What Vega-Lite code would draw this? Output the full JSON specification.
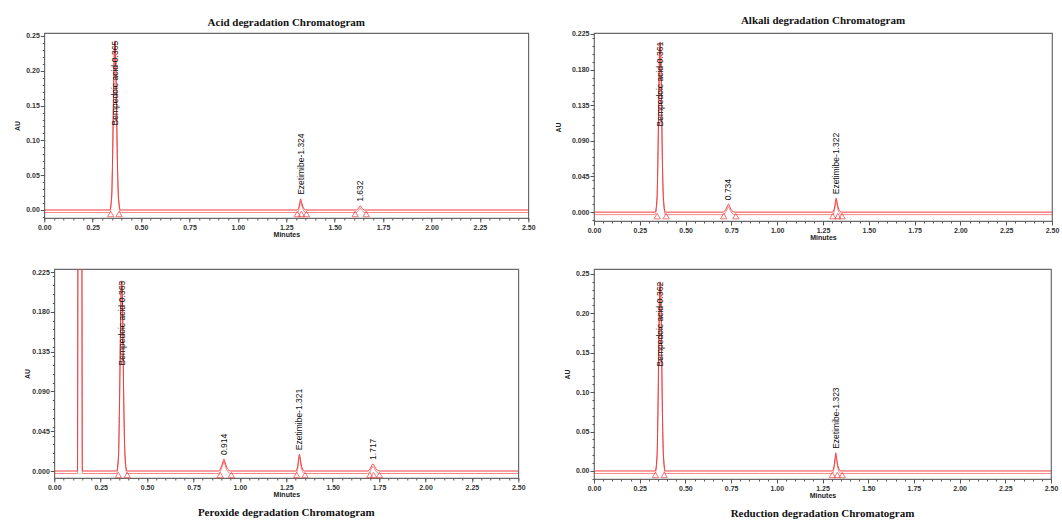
{
  "$schema": "https://vega.github.io/schema/vega-lite/v6.json",
  "background": "white",
  "padding": {"left": 13, "top": 14, "right": 0, "bottom": 0},
  "datasets": {
    "trace": [
      {"panel": "acid", "minutes": 0, "au": 0},
      {"panel": "acid", "minutes": 0.338, "au": 0},
      {"panel": "acid", "minutes": 0.348, "au": 0.02},
      {"panel": "acid", "minutes": 0.353, "au": 0.08},
      {"panel": "acid", "minutes": 0.358, "au": 0.17},
      {"panel": "acid", "minutes": 0.362, "au": 0.23},
      {"panel": "acid", "minutes": 0.365, "au": 0.243},
      {"panel": "acid", "minutes": 0.368, "au": 0.23},
      {"panel": "acid", "minutes": 0.372, "au": 0.17},
      {"panel": "acid", "minutes": 0.377, "au": 0.08},
      {"panel": "acid", "minutes": 0.383, "au": 0.02},
      {"panel": "acid", "minutes": 0.393, "au": 0},
      {"panel": "acid", "minutes": 1.305, "au": 0},
      {"panel": "acid", "minutes": 1.315, "au": 0.004},
      {"panel": "acid", "minutes": 1.32, "au": 0.011},
      {"panel": "acid", "minutes": 1.324, "au": 0.016},
      {"panel": "acid", "minutes": 1.329, "au": 0.011},
      {"panel": "acid", "minutes": 1.337, "au": 0.004},
      {"panel": "acid", "minutes": 1.35, "au": 0},
      {"panel": "acid", "minutes": 1.612, "au": 0},
      {"panel": "acid", "minutes": 1.624, "au": 0.003},
      {"panel": "acid", "minutes": 1.632, "au": 0.006},
      {"panel": "acid", "minutes": 1.64, "au": 0.003},
      {"panel": "acid", "minutes": 1.655, "au": 0},
      {"panel": "acid", "minutes": 2.5, "au": 0},
      {"panel": "alkali", "minutes": 0, "au": 0},
      {"panel": "alkali", "minutes": 0.334, "au": 0},
      {"panel": "alkali", "minutes": 0.344, "au": 0.018},
      {"panel": "alkali", "minutes": 0.349, "au": 0.07},
      {"panel": "alkali", "minutes": 0.354, "au": 0.15},
      {"panel": "alkali", "minutes": 0.358, "au": 0.205},
      {"panel": "alkali", "minutes": 0.361, "au": 0.215},
      {"panel": "alkali", "minutes": 0.364, "au": 0.205},
      {"panel": "alkali", "minutes": 0.368, "au": 0.15},
      {"panel": "alkali", "minutes": 0.373, "au": 0.07},
      {"panel": "alkali", "minutes": 0.379, "au": 0.018},
      {"panel": "alkali", "minutes": 0.389, "au": 0},
      {"panel": "alkali", "minutes": 0.705, "au": 0},
      {"panel": "alkali", "minutes": 0.718, "au": 0.003},
      {"panel": "alkali", "minutes": 0.727, "au": 0.007},
      {"panel": "alkali", "minutes": 0.734, "au": 0.01},
      {"panel": "alkali", "minutes": 0.741, "au": 0.007},
      {"panel": "alkali", "minutes": 0.752, "au": 0.002},
      {"panel": "alkali", "minutes": 0.77, "au": 0},
      {"panel": "alkali", "minutes": 1.302, "au": 0},
      {"panel": "alkali", "minutes": 1.312, "au": 0.005},
      {"panel": "alkali", "minutes": 1.317, "au": 0.012},
      {"panel": "alkali", "minutes": 1.322, "au": 0.0175},
      {"panel": "alkali", "minutes": 1.327, "au": 0.012},
      {"panel": "alkali", "minutes": 1.335, "au": 0.004},
      {"panel": "alkali", "minutes": 1.35, "au": 0},
      {"panel": "alkali", "minutes": 2.5, "au": 0},
      {"panel": "peroxide", "minutes": 0, "au": 0},
      {"panel": "peroxide", "minutes": 0.125, "au": 0},
      {"panel": "peroxide", "minutes": 0.128, "au": 0.3},
      {"panel": "peroxide", "minutes": 0.148, "au": 0.3},
      {"panel": "peroxide", "minutes": 0.151, "au": 0},
      {"panel": "peroxide", "minutes": 0.336, "au": 0},
      {"panel": "peroxide", "minutes": 0.346, "au": 0.018},
      {"panel": "peroxide", "minutes": 0.351, "au": 0.07},
      {"panel": "peroxide", "minutes": 0.356, "au": 0.15},
      {"panel": "peroxide", "minutes": 0.36, "au": 0.205},
      {"panel": "peroxide", "minutes": 0.363, "au": 0.215},
      {"panel": "peroxide", "minutes": 0.366, "au": 0.205},
      {"panel": "peroxide", "minutes": 0.37, "au": 0.15},
      {"panel": "peroxide", "minutes": 0.375, "au": 0.07},
      {"panel": "peroxide", "minutes": 0.381, "au": 0.018},
      {"panel": "peroxide", "minutes": 0.391, "au": 0},
      {"panel": "peroxide", "minutes": 0.885, "au": 0},
      {"panel": "peroxide", "minutes": 0.898, "au": 0.004},
      {"panel": "peroxide", "minutes": 0.907, "au": 0.009},
      {"panel": "peroxide", "minutes": 0.914, "au": 0.0136},
      {"panel": "peroxide", "minutes": 0.921, "au": 0.009},
      {"panel": "peroxide", "minutes": 0.932, "au": 0.003},
      {"panel": "peroxide", "minutes": 0.95, "au": 0},
      {"panel": "peroxide", "minutes": 1.301, "au": 0},
      {"panel": "peroxide", "minutes": 1.311, "au": 0.005},
      {"panel": "peroxide", "minutes": 1.316, "au": 0.013},
      {"panel": "peroxide", "minutes": 1.321, "au": 0.019},
      {"panel": "peroxide", "minutes": 1.326, "au": 0.013},
      {"panel": "peroxide", "minutes": 1.334, "au": 0.004},
      {"panel": "peroxide", "minutes": 1.348, "au": 0},
      {"panel": "peroxide", "minutes": 1.69, "au": 0},
      {"panel": "peroxide", "minutes": 1.703, "au": 0.003},
      {"panel": "peroxide", "minutes": 1.71, "au": 0.006},
      {"panel": "peroxide", "minutes": 1.717, "au": 0.008},
      {"panel": "peroxide", "minutes": 1.724, "au": 0.006},
      {"panel": "peroxide", "minutes": 1.735, "au": 0.002},
      {"panel": "peroxide", "minutes": 1.755, "au": 0},
      {"panel": "peroxide", "minutes": 2.5, "au": 0},
      {"panel": "reduction", "minutes": 0, "au": 0},
      {"panel": "reduction", "minutes": 0.335, "au": 0},
      {"panel": "reduction", "minutes": 0.345, "au": 0.02},
      {"panel": "reduction", "minutes": 0.35, "au": 0.08},
      {"panel": "reduction", "minutes": 0.355, "au": 0.17},
      {"panel": "reduction", "minutes": 0.359, "au": 0.23},
      {"panel": "reduction", "minutes": 0.362, "au": 0.24},
      {"panel": "reduction", "minutes": 0.365, "au": 0.23},
      {"panel": "reduction", "minutes": 0.369, "au": 0.17},
      {"panel": "reduction", "minutes": 0.374, "au": 0.08},
      {"panel": "reduction", "minutes": 0.38, "au": 0.02},
      {"panel": "reduction", "minutes": 0.39, "au": 0},
      {"panel": "reduction", "minutes": 1.303, "au": 0},
      {"panel": "reduction", "minutes": 1.313, "au": 0.006},
      {"panel": "reduction", "minutes": 1.318, "au": 0.015},
      {"panel": "reduction", "minutes": 1.323, "au": 0.023},
      {"panel": "reduction", "minutes": 1.328, "au": 0.015},
      {"panel": "reduction", "minutes": 1.336, "au": 0.005},
      {"panel": "reduction", "minutes": 1.35, "au": 0},
      {"panel": "reduction", "minutes": 2.5, "au": 0}
    ],
    "marks": [
      {"panel": "acid", "minutes": 0.343},
      {"panel": "acid", "minutes": 0.386},
      {"panel": "acid", "minutes": 1.307},
      {"panel": "acid", "minutes": 1.328},
      {"panel": "acid", "minutes": 1.354},
      {"panel": "acid", "minutes": 1.606},
      {"panel": "acid", "minutes": 1.663},
      {"panel": "alkali", "minutes": 0.345},
      {"panel": "alkali", "minutes": 0.394},
      {"panel": "alkali", "minutes": 0.708},
      {"panel": "alkali", "minutes": 0.774},
      {"panel": "alkali", "minutes": 1.304},
      {"panel": "alkali", "minutes": 1.331},
      {"panel": "alkali", "minutes": 1.354},
      {"panel": "peroxide", "minutes": 0.345},
      {"panel": "peroxide", "minutes": 0.393},
      {"panel": "peroxide", "minutes": 0.894},
      {"panel": "peroxide", "minutes": 0.954},
      {"panel": "peroxide", "minutes": 1.306},
      {"panel": "peroxide", "minutes": 1.351},
      {"panel": "peroxide", "minutes": 1.7},
      {"panel": "peroxide", "minutes": 1.72},
      {"panel": "peroxide", "minutes": 1.752},
      {"panel": "reduction", "minutes": 0.336},
      {"panel": "reduction", "minutes": 0.384},
      {"panel": "reduction", "minutes": 1.304},
      {"panel": "reduction", "minutes": 1.331},
      {"panel": "reduction", "minutes": 1.358}
    ],
    "labels": [
      {"panel": "acid", "minutes": 0.365, "au": 0.243, "label": "Bempedoic acid-0.365"},
      {"panel": "acid", "minutes": 1.324, "au": 0.016, "label": "Ezetimibe-1.324"},
      {"panel": "acid", "minutes": 1.632, "au": 0.006, "label": "1.632"},
      {"panel": "alkali", "minutes": 0.361, "au": 0.215, "label": "Bempedoic acid-0.361"},
      {"panel": "alkali", "minutes": 0.734, "au": 0.01, "label": "0.734"},
      {"panel": "alkali", "minutes": 1.322, "au": 0.0175, "label": "Ezetimibe-1.322"},
      {"panel": "peroxide", "minutes": 0.363, "au": 0.215, "label": "Bempedoic acid-0.363"},
      {"panel": "peroxide", "minutes": 0.914, "au": 0.0136, "label": "0.914"},
      {"panel": "peroxide", "minutes": 1.321, "au": 0.019, "label": "Ezetimibe-1.321"},
      {"panel": "peroxide", "minutes": 1.717, "au": 0.008, "label": "1.717"},
      {"panel": "reduction", "minutes": 0.362, "au": 0.24, "label": "Bempedoic acid-0.362"},
      {"panel": "reduction", "minutes": 1.323, "au": 0.023, "label": "Ezetimibe-1.323"}
    ]
  },
  "columns": 2,
  "align": "each",
  "center": {"column": true, "row": false},
  "spacing": {"row": 26, "column": 17},
  "concat": [
    {
      "width": 484, "height": 185,
      "title": {"text": "Acid degradation Chromatogram", "offset": 3.5},
      "layer": [
        {
          "data": {"name": "trace"},
          "transform": [{"filter": "datum.panel === 'acid'"}],
          "mark": {"type": "line", "color": "#f03c3c", "strokeWidth": 1, "interpolate": "monotone", "clip": true},
          "encoding": {
            "x": {"field": "minutes", "type": "quantitative", "scale": {"domain": [0, 2.5], "nice": false, "zero": false},
              "axis": {"orient": "bottom", "values": [0, 0.25, 0.5, 0.75, 1, 1.25, 1.5, 1.75, 2, 2.25, 2.5], "format": ".2f", "title": "Minutes", "titlePadding": 0}},
            "y": {"field": "au", "type": "quantitative", "scale": {"domain": [-0.0115, 0.2543], "nice": false, "zero": false},
              "axis": {"orient": "left", "values": [0, 0.05, 0.1, 0.15, 0.2, 0.25], "format": ".2f", "title": "AU", "titlePadding": 5}}
          }
        },
        {
          "data": {"name": "trace"},
          "transform": [{"filter": "datum.panel === 'acid'"}],
          "mark": {"type": "line", "color": "#f03c3c", "strokeWidth": 1, "opacity": 0.6, "interpolate": "monotone", "clip": true, "yOffset": 2.5},
          "encoding": {
            "x": {"field": "minutes", "type": "quantitative", "axis": {"orient": "bottom", "tickCount": 50, "labels": false, "title": null, "tickSize": 2}},
            "y": {"field": "au", "type": "quantitative", "axis": {"orient": "left", "tickCount": 25, "labels": false, "title": null, "tickSize": 2}}
          }
        },
        {
          "data": {"name": "marks"},
          "transform": [{"filter": "datum.panel === 'acid'"}],
          "mark": {"type": "point", "shape": "triangle-up", "filled": false, "color": "#f03c3c", "strokeWidth": 1, "size": 40, "yOffset": 4},
          "encoding": {
            "x": {"field": "minutes", "type": "quantitative", "axis": null},
            "y": {"datum": 0, "type": "quantitative", "axis": null}
          }
        },
        {
          "data": {"name": "labels"},
          "transform": [{"filter": "datum.panel === 'acid' && datum.au < 0.1"}],
          "mark": {"type": "text", "angle": 270, "align": "left", "baseline": "middle", "dx": 4, "fontSize": 8.5, "font": "Liberation Sans", "color": "#111"},
          "encoding": {
            "x": {"field": "minutes", "type": "quantitative", "axis": null},
            "y": {"field": "au", "type": "quantitative", "axis": null},
            "text": {"field": "label"}
          }
        },
        {
          "data": {"name": "labels"},
          "transform": [{"filter": "datum.panel === 'acid' && datum.au >= 0.1"}],
          "mark": {"type": "text", "angle": 270, "align": "right", "baseline": "middle", "dx": 0, "fontSize": 8.5, "font": "Liberation Sans", "color": "#111"},
          "encoding": {
            "x": {"field": "minutes", "type": "quantitative", "axis": null},
            "y": {"field": "au", "type": "quantitative", "axis": null},
            "text": {"field": "label"}
          }
        }
      ],
      "resolve": {"axis": {"x": "independent", "y": "independent"}}
    },
    {
      "width": 458, "height": 188,
      "title": {"text": "Alkali degradation Chromatogram", "offset": 3.5, "frame": "group"},
      "layer": [
        {
          "data": {"name": "trace"},
          "transform": [{"filter": "datum.panel === 'alkali'"}],
          "mark": {"type": "line", "color": "#f03c3c", "strokeWidth": 1, "interpolate": "monotone", "clip": true},
          "encoding": {
            "x": {"field": "minutes", "type": "quantitative", "scale": {"domain": [0, 2.5], "nice": false, "zero": false},
              "axis": {"orient": "bottom", "values": [0, 0.25, 0.5, 0.75, 1, 1.25, 1.5, 1.75, 2, 2.25, 2.5], "format": ".2f", "title": "Minutes", "titlePadding": 0}},
            "y": {"field": "au", "type": "quantitative", "scale": {"domain": [-0.0112, 0.2262], "nice": false, "zero": false},
              "axis": {"orient": "left", "values": [0, 0.045, 0.09, 0.135, 0.18, 0.225], "format": ".3f", "title": "AU", "titlePadding": 10}}
          }
        },
        {
          "data": {"name": "trace"},
          "transform": [{"filter": "datum.panel === 'alkali'"}],
          "mark": {"type": "line", "color": "#f03c3c", "strokeWidth": 1, "opacity": 0.6, "interpolate": "monotone", "clip": true, "yOffset": 2.5},
          "encoding": {
            "x": {"field": "minutes", "type": "quantitative", "axis": {"orient": "bottom", "tickCount": 50, "labels": false, "title": null, "tickSize": 2}},
            "y": {"field": "au", "type": "quantitative", "axis": {"orient": "left", "tickCount": 25, "labels": false, "title": null, "tickSize": 2}}
          }
        },
        {
          "data": {"name": "marks"},
          "transform": [{"filter": "datum.panel === 'alkali'"}],
          "mark": {"type": "point", "shape": "triangle-up", "filled": false, "color": "#f03c3c", "strokeWidth": 1, "size": 40, "yOffset": 4},
          "encoding": {
            "x": {"field": "minutes", "type": "quantitative", "axis": null},
            "y": {"datum": 0, "type": "quantitative", "axis": null}
          }
        },
        {
          "data": {"name": "labels"},
          "transform": [{"filter": "datum.panel === 'alkali' && datum.au < 0.1"}],
          "mark": {"type": "text", "angle": 270, "align": "left", "baseline": "middle", "dx": 4, "fontSize": 8.5, "font": "Liberation Sans", "color": "#111"},
          "encoding": {
            "x": {"field": "minutes", "type": "quantitative", "axis": null},
            "y": {"field": "au", "type": "quantitative", "axis": null},
            "text": {"field": "label"}
          }
        },
        {
          "data": {"name": "labels"},
          "transform": [{"filter": "datum.panel === 'alkali' && datum.au >= 0.1"}],
          "mark": {"type": "text", "angle": 270, "align": "right", "baseline": "middle", "dx": 0, "fontSize": 8.5, "font": "Liberation Sans", "color": "#111"},
          "encoding": {
            "x": {"field": "minutes", "type": "quantitative", "axis": null},
            "y": {"field": "au", "type": "quantitative", "axis": null},
            "text": {"field": "label"}
          }
        }
      ],
      "resolve": {"axis": {"x": "independent", "y": "independent"}}
    },
    {
      "width": 464, "height": 209,
      "title": {"text": "Peroxide degradation Chromatogram", "orient": "bottom", "offset": 10, "frame": "group"},
      "layer": [
        {
          "data": {"name": "trace"},
          "transform": [{"filter": "datum.panel === 'peroxide'"}],
          "mark": {"type": "line", "color": "#f03c3c", "strokeWidth": 1, "interpolate": "monotone", "clip": true},
          "encoding": {
            "x": {"field": "minutes", "type": "quantitative", "scale": {"domain": [0, 2.5], "nice": false, "zero": false},
              "axis": {"orient": "bottom", "values": [0, 0.25, 0.5, 0.75, 1, 1.25, 1.5, 1.75, 2, 2.25, 2.5], "format": ".2f", "title": "Minutes", "titlePadding": 0}},
            "y": {"field": "au", "type": "quantitative", "scale": {"domain": [-0.0079, 0.2284], "nice": false, "zero": false},
              "axis": {"orient": "left", "values": [0, 0.045, 0.09, 0.135, 0.18, 0.225], "format": ".3f", "title": "AU", "titlePadding": 1}}
          }
        },
        {
          "data": {"name": "trace"},
          "transform": [{"filter": "datum.panel === 'peroxide'"}],
          "mark": {"type": "line", "color": "#f03c3c", "strokeWidth": 1, "opacity": 0.6, "interpolate": "monotone", "clip": true, "yOffset": 2.5},
          "encoding": {
            "x": {"field": "minutes", "type": "quantitative", "axis": {"orient": "bottom", "tickCount": 50, "labels": false, "title": null, "tickSize": 2}},
            "y": {"field": "au", "type": "quantitative", "axis": {"orient": "left", "tickCount": 25, "labels": false, "title": null, "tickSize": 2}}
          }
        },
        {
          "data": {"name": "marks"},
          "transform": [{"filter": "datum.panel === 'peroxide'"}],
          "mark": {"type": "point", "shape": "triangle-up", "filled": false, "color": "#f03c3c", "strokeWidth": 1, "size": 40, "yOffset": 4},
          "encoding": {
            "x": {"field": "minutes", "type": "quantitative", "axis": null},
            "y": {"datum": 0, "type": "quantitative", "axis": null}
          }
        },
        {
          "data": {"name": "labels"},
          "transform": [{"filter": "datum.panel === 'peroxide' && datum.au < 0.1"}],
          "mark": {"type": "text", "angle": 270, "align": "left", "baseline": "middle", "dx": 4, "fontSize": 8.5, "font": "Liberation Sans", "color": "#111"},
          "encoding": {
            "x": {"field": "minutes", "type": "quantitative", "axis": null},
            "y": {"field": "au", "type": "quantitative", "axis": null},
            "text": {"field": "label"}
          }
        },
        {
          "data": {"name": "labels"},
          "transform": [{"filter": "datum.panel === 'peroxide' && datum.au >= 0.1"}],
          "mark": {"type": "text", "angle": 270, "align": "right", "baseline": "middle", "dx": 0, "fontSize": 8.5, "font": "Liberation Sans", "color": "#111"},
          "encoding": {
            "x": {"field": "minutes", "type": "quantitative", "axis": null},
            "y": {"field": "au", "type": "quantitative", "axis": null},
            "text": {"field": "label"}
          }
        }
      ],
      "resolve": {"axis": {"x": "independent", "y": "independent"}}
    },
    {
      "width": 457, "height": 210,
      "title": {"text": "Reduction degradation Chromatogram", "orient": "bottom", "offset": 10, "frame": "group"},
      "layer": [
        {
          "data": {"name": "trace"},
          "transform": [{"filter": "datum.panel === 'reduction'"}],
          "mark": {"type": "line", "color": "#f03c3c", "strokeWidth": 1, "interpolate": "monotone", "clip": true},
          "encoding": {
            "x": {"field": "minutes", "type": "quantitative", "scale": {"domain": [0, 2.5], "nice": false, "zero": false},
              "axis": {"orient": "bottom", "values": [0, 0.25, 0.5, 0.75, 1, 1.25, 1.5, 1.75, 2, 2.25, 2.5], "format": ".2f", "title": "Minutes", "titlePadding": 0}},
            "y": {"field": "au", "type": "quantitative", "scale": {"domain": [-0.0102, 0.2563], "nice": false, "zero": false},
              "axis": {"orient": "left", "values": [0, 0.05, 0.1, 0.15, 0.2, 0.25], "format": ".2f", "title": "AU", "minExtent": 38, "titleX": -24, "titleY": 105}}
          }
        },
        {
          "data": {"name": "trace"},
          "transform": [{"filter": "datum.panel === 'reduction'"}],
          "mark": {"type": "line", "color": "#f03c3c", "strokeWidth": 1, "opacity": 0.6, "interpolate": "monotone", "clip": true, "yOffset": 2.5},
          "encoding": {
            "x": {"field": "minutes", "type": "quantitative", "axis": {"orient": "bottom", "tickCount": 50, "labels": false, "title": null, "tickSize": 2}},
            "y": {"field": "au", "type": "quantitative", "axis": {"orient": "left", "tickCount": 25, "labels": false, "title": null, "tickSize": 2}}
          }
        },
        {
          "data": {"name": "marks"},
          "transform": [{"filter": "datum.panel === 'reduction'"}],
          "mark": {"type": "point", "shape": "triangle-up", "filled": false, "color": "#f03c3c", "strokeWidth": 1, "size": 40, "yOffset": 4},
          "encoding": {
            "x": {"field": "minutes", "type": "quantitative", "axis": null},
            "y": {"datum": 0, "type": "quantitative", "axis": null}
          }
        },
        {
          "data": {"name": "labels"},
          "transform": [{"filter": "datum.panel === 'reduction' && datum.au < 0.1"}],
          "mark": {"type": "text", "angle": 270, "align": "left", "baseline": "middle", "dx": 4, "fontSize": 8.5, "font": "Liberation Sans", "color": "#111"},
          "encoding": {
            "x": {"field": "minutes", "type": "quantitative", "axis": null},
            "y": {"field": "au", "type": "quantitative", "axis": null},
            "text": {"field": "label"}
          }
        },
        {
          "data": {"name": "labels"},
          "transform": [{"filter": "datum.panel === 'reduction' && datum.au >= 0.1"}],
          "mark": {"type": "text", "angle": 270, "align": "right", "baseline": "middle", "dx": 0, "fontSize": 8.5, "font": "Liberation Sans", "color": "#111"},
          "encoding": {
            "x": {"field": "minutes", "type": "quantitative", "axis": null},
            "y": {"field": "au", "type": "quantitative", "axis": null},
            "text": {"field": "label"}
          }
        }
      ],
      "resolve": {"axis": {"x": "independent", "y": "independent"}}
    }
  ],
  "config": {
    "view": {"stroke": "#6a6a6a", "strokeWidth": 1.2},
    "axis": {
      "domain": false, "grid": false,
      "labelFont": "Liberation Sans", "labelFontSize": 7, "labelFontWeight": "bold", "labelColor": "#333", "labelPadding": 1,
      "titleFont": "Liberation Sans", "titleFontSize": 7, "titleFontWeight": "bold", "titleColor": "#222",
      "tickColor": "#555", "tickSize": 4, "labelFlush": false, "labelOverlap": false
    },
    "title": {"font": "Liberation Serif", "fontSize": 11, "fontWeight": "bold", "color": "#111"}
  }
}
